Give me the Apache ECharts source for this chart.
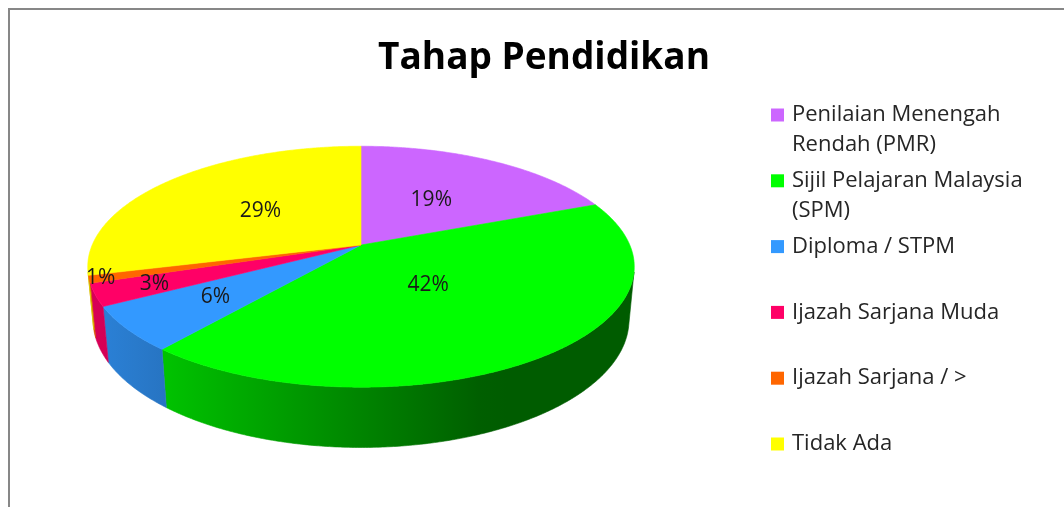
<!DOCTYPE html>
<html><head><meta charset="utf-8">
<script src="https://cdn.jsdelivr.net/npm/echarts@6/dist/echarts.min.js"></script>
<style>html,body{margin:0;padding:0;background:#fff}#c{width:1064px;height:507px}</style>
</head><body><div id="c"></div>
<script>
// ---- data ----
const chartTitle = 'Tahap Pendidikan';
const categories = ['Penilaian Menengah Rendah (PMR)', 'Sijil Pelajaran Malaysia (SPM)', 'Diploma / STPM', 'Ijazah Sarjana Muda', 'Ijazah Sarjana / >', 'Tidak Ada'];
const values = [19, 42, 6, 3, 1, 29];
const colors = ['#cc66ff', '#00ff00', '#3399ff', '#ff0066', '#ff6600', '#ffff00'];

// ---- 3D pie projection (layout) ----
const CX = 361, CY = 245, F = 1344, DIST = 5, ELEV = 25.7 * Math.PI / 180, THICK = 0.22;
const cE = Math.cos(ELEV), sE = Math.sin(ELEV);
function proj(x, y, z) {
  const d = DIST + z * cE - y * sE;
  const v = y * cE + z * sE;
  return [CX + F * x / d, CY - F * v / d];
}
const total = values.reduce((a, b) => a + b, 0);
const cum = [];
values.reduce((acc, v, i) => { cum[i] = acc; return acc + v; }, 0);

function hexToRgb(h) { return [parseInt(h.substr(1, 2), 16), parseInt(h.substr(3, 2), 16), parseInt(h.substr(5, 2), 16)]; }
function shade(hex, f) {
  const c = hexToRgb(hex).map(v => Math.max(0, Math.min(255, Math.round(v * f))));
  return 'rgb(' + c.join(',') + ')';
}
function wallFactor(sx) {
  const f = 0.37 + (480 - sx) / (480 - 157) * 0.40;
  return Math.max(0.36, Math.min(0.86, f));
}
const GX0 = 80, GX1 = 650;
function wallGradient(color) {
  const stops = [];
  for (let k = 0; k <= 20; k++) {
    const x = GX0 + (GX1 - GX0) * k / 20;
    stops.push({ offset: k / 20, color: shade(color, wallFactor(x)) });
  }
  return { type: 'linear', x: GX0, y: 0, x2: GX1, y2: 0, global: true, colorStops: stops };
}
const frontLo = Math.acos(-1 / (DIST * cE));
const frontHi = 2 * Math.PI - frontLo;

function labelRadius(v) { return v >= 35 ? 0.4 : v >= 15 ? 0.5 : v >= 5 ? 0.65 : v >= 2 ? 0.79 : 0.96; }

function renderItem(params, api) {
  const a0 = api.value(0) / total * 2 * Math.PI;
  const a1 = api.value(1) / total * 2 * Math.PI;
  const val = api.value(2);
  const color = api.visual('color');
  const children = [];
  // outer wall (front-facing part only)
  const w0 = Math.max(a0, frontLo), w1 = Math.min(a1, frontHi);
  if (w1 > w0) {
    const n = Math.max(2, Math.ceil((w1 - w0) / (Math.PI / 360)));
    const topArc = [], botArc = [];
    for (let k = 0; k <= n; k++) {
      const t = w0 + (w1 - w0) * k / n;
      topArc.push(proj(Math.sin(t), 0, Math.cos(t)));
      botArc.push(proj(Math.sin(t), -THICK, Math.cos(t)));
    }
    const g = wallGradient(color);
    children.push({ type: 'polygon', z2: 1, shape: { points: topArc.concat(botArc.reverse()) }, style: { fill: g, stroke: g, lineWidth: 0.6 } });
  }
  // top face
  const pts = [proj(0, 0, 0)];
  const m = Math.max(2, Math.ceil((a1 - a0) / (Math.PI / 360)));
  for (let k = 0; k <= m; k++) {
    const t = a0 + (a1 - a0) * k / m;
    pts.push(proj(Math.sin(t), 0, Math.cos(t)));
  }
  children.push({ type: 'polygon', z2: 10, shape: { points: pts }, style: { fill: color, stroke: color, lineWidth: 0.6 } });
  // label
  const am = (a0 + a1) / 2, r = labelRadius(val);
  const lp = proj(r * Math.sin(am), 0, r * Math.cos(am));
  children.push({ type: 'text', z2: 20, style: { text: val + '%', x: lp[0], y: lp[1], align: 'center', verticalAlign: 'middle', font: '21px "Open Sans"', fill: '#1a1a1a' } });
  return { type: 'group', children };
}

function wrapName(name) {
  const words = name.split(' ');
  const lines = [];
  let cur = '';
  words.forEach(w => {
    if (cur && (cur + ' ' + w).length > 24) { lines.push(cur); cur = w; }
    else cur = cur ? cur + ' ' + w : w;
  });
  lines.push(cur);
  return lines;
}

const LH = 30;
const legends = categories.map((name, i) => {
  const n = wrapName(name).length;
  const center = 115 + i * 65.8;
  // pad with blank lines above so that the first line sits beside the marker
  const blank = n - 1;
  return {
    orient: 'vertical', left: 771, top: center - (LH * (n + blank)) / 2, padding: 0,
    icon: 'rect', itemWidth: 13, itemHeight: 13, selectedMode: false,
    formatter: nm => { const ls = wrapName(nm); return new Array(ls.length - 1).fill(' ').concat(ls).join('\n'); },
    data: [name],
    textStyle: { fontFamily: 'Open Sans', fontSize: 22, color: '#262626', lineHeight: LH, padding: [0, 0, 0, 3] }
  };
});

const series = categories.map((name, i) => ({
  type: 'custom', name, coordinateSystem: 'none',
  itemStyle: { color: colors[i] },
  data: [[cum[i], cum[i] + values[i], values[i]]],
  renderItem
}));

const chart = echarts.init(document.getElementById('c'));
chart.setOption({
  animation: false,
  title: { text: chartTitle, left: 539, top: 35, textAlign: 'center', textStyle: { fontFamily: 'Open Sans', fontWeight: 'bold', fontSize: 37, color: '#000' } },
  legend: legends,
  graphic: [{ type: 'rect', shape: { x: 9, y: 9, width: 1200, height: 700 }, style: { fill: 'none', stroke: '#878787', lineWidth: 2 }, silent: true }],
  series
});
</script></body></html>
